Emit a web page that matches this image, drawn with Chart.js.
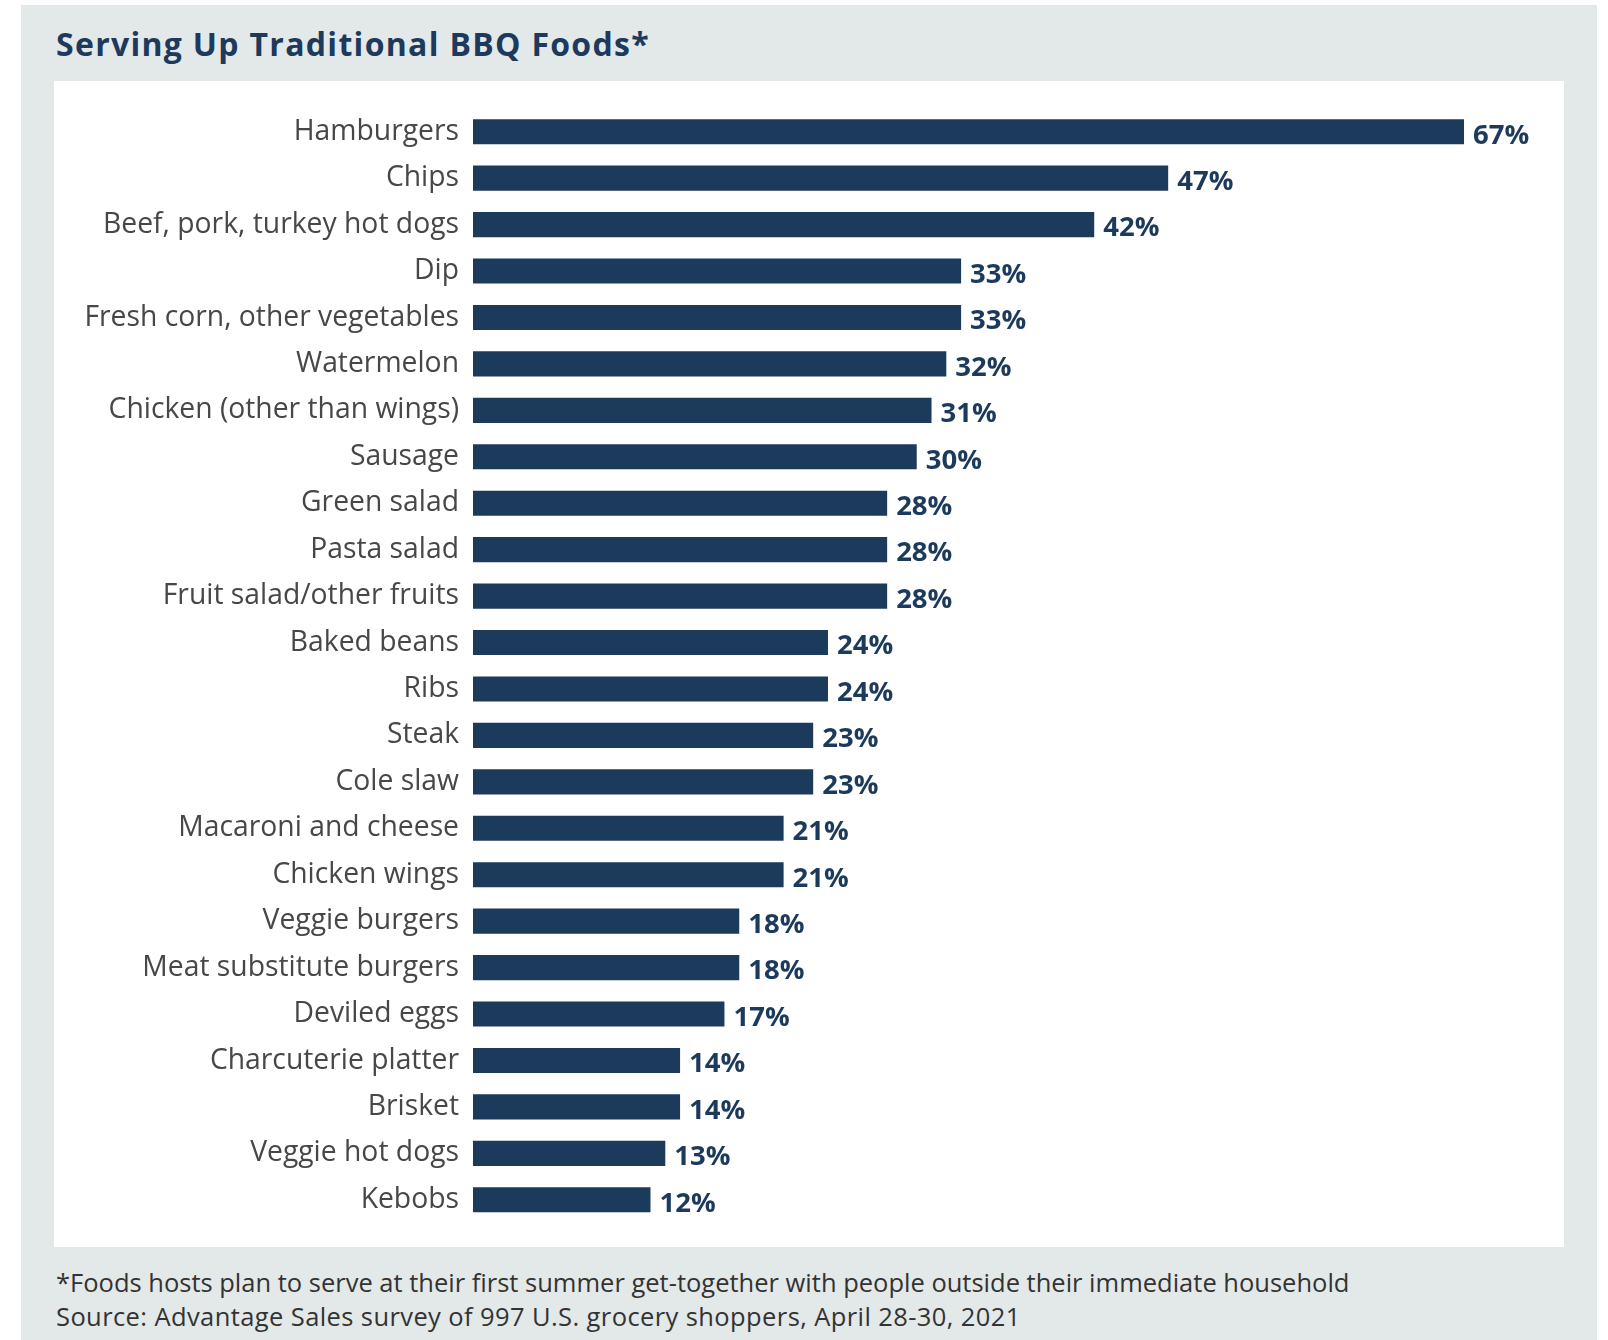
<!DOCTYPE html>
<html>
<head>
<meta charset="utf-8">
<script src="https://cdn.jsdelivr.net/npm/chart.js@4.4.1/dist/chart.umd.min.js"></script>
<style>
  html, body { margin: 0; padding: 0; background: #ffffff; }
  body { width: 1608px; height: 1340px; position: relative; overflow: hidden; font-family: "Open Sans", sans-serif; }
  #frame {
    position: absolute; left: 21px; top: 5px; width: 1576px; height: 1340px;
    background: #e3e9e9;
  }
  #title {
    position: absolute; left: 56px; top: 22px; margin: 0;
    font: bold 32px "Open Sans", sans-serif; color: #1d3a5c; letter-spacing: 1.3px;
  }
  #panel {
    position: absolute; left: 54px; top: 81px; width: 1510px; height: 1166px;
    background: #ffffff;
  }
  #panel canvas { display: block; }
  .note {
    position: absolute; left: 56px; margin: 0;
    font: 25.5px "Open Sans", sans-serif; color: #333333;
  }
</style>
</head>
<body>
<div id="frame"></div>
<h1 id="title">Serving Up Traditional BBQ Foods*</h1>
<div id="panel"><canvas id="barChart" width="1510" height="1166"></canvas></div>
<p class="note" style="top:1265px">*Foods hosts plan to serve at their first summer get-together with people outside their immediate household</p>
<p class="note" style="top:1299px; letter-spacing:0.4px">Source: Advantage Sales survey of 997 U.S. grocery shoppers, April 28-30, 2021</p>

<script>
// chart data
var foods = [
    "Hamburgers", "Chips", "Beef, pork, turkey hot dogs", "Dip",
    "Fresh corn, other vegetables", "Watermelon", "Chicken (other than wings)",
    "Sausage", "Green salad", "Pasta salad", "Fruit salad/other fruits",
    "Baked beans", "Ribs", "Steak", "Cole slaw", "Macaroni and cheese",
    "Chicken wings", "Veggie burgers", "Meat substitute burgers", "Deviled eggs",
    "Charcuterie platter", "Brisket", "Veggie hot dogs", "Kebobs"
];
var shares = [67, 47, 42, 33, 33, 32, 31, 30, 28, 28, 28, 24, 24, 23, 23, 21, 21, 18, 18, 17, 14, 14, 13, 12];

var navy = "#1c3a5c";

// draws the "NN%" text at the end of each bar
var valueLabels = {
    id: "valueLabels",
    afterDatasetsDraw: function(chart) {
        var ctx = chart.ctx;
        var meta = chart.getDatasetMeta(0);
        ctx.save();
        ctx.font = "bold 27.5px 'Open Sans', sans-serif";
        ctx.fillStyle = navy;
        ctx.textAlign = "left";
        ctx.textBaseline = "middle";
        meta.data.forEach(function(bar, i) {
            ctx.fillText(shares[i] + "%", bar.x + 9, bar.y + 4);
        });
        ctx.restore();
    }
};

const ctx = document.getElementById("barChart").getContext("2d");
new Chart(ctx, {
    type: "bar",
    data: {
        labels: foods,
        datasets: [{
            data: shares,
            backgroundColor: navy,
            barPercentage: 0.54,
            categoryPercentage: 1
        }]
    },
    options: {
        indexAxis: "y",
        responsive: false,
        animation: false,
        layout: { padding: { top: 27.5, bottom: 24, right: 100, left: 0 } },
        plugins: {
            legend: { display: false },
            tooltip: { enabled: false }
        },
        scales: {
            x: {
                display: false,
                min: 0,
                max: 67
            },
            y: {
                grid: { display: false, drawTicks: false },
                border: { display: false },
                afterFit: function(scale) { scale.width = 419; },
                ticks: {
                    padding: 14,
                    color: "#474747",
                    // small lineHeight so the label box doesn't push the plot area in
                    font: { family: "'Open Sans', sans-serif", size: 28.3, lineHeight: 0.7 }
                }
            }
        }
    },
    plugins: [valueLabels]
});
</script>
</body>
</html>
